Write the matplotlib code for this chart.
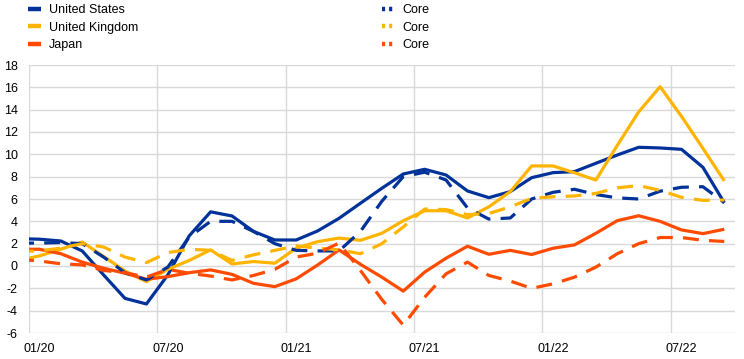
import matplotlib
matplotlib.use("Agg")
import matplotlib.pyplot as plt
from matplotlib.lines import Line2D
import numpy as np
import pandas as pd

plt.rcParams['font.family'] = ['Liberation Sans', 'DejaVu Sans']
plt.rcParams['axes.unicode_minus'] = False

# Monthly observations, Dec 2019 (clipped at the left edge) to Sep 2022
months = pd.date_range('2019-12-01', '2022-09-01', freq='MS')

us_headline = [2.45, 2.4, 2.24, 1.35, -0.8, -2.9, -3.4, -0.8, 2.7, 4.85, 4.48, 3.1, 2.33,
               2.33, 3.14, 4.27, 5.62, 6.96, 8.24, 8.66, 8.15, 6.72, 6.12, 6.66, 7.91,
               8.36, 8.45, 9.2, 9.94, 10.63, 10.57, 10.45, 8.84, 5.67]
uk_headline = [0.5, 0.9, 1.5, 2.15, 0.85, -0.45, -1.4, -0.3, 0.5, 1.44, 0.18, 0.4, 0.25,
               1.6, 2.18, 2.5, 2.3, 2.93, 4.05, 4.95, 4.95, 4.3, 5.3, 6.66, 8.96,
               8.96, 8.35, 7.7, 10.8, 13.8, 16.06, 13.4, 10.54, 7.62]
jp_headline = [1.5, 1.5, 1.1, 0.35, -0.2, -0.65, -1.19, -0.95, -0.6, -0.35, -0.75, -1.55, -1.85,
               -1.15, 0.09, 1.44, 0.15, -1.0, -2.25, -0.55, 0.7, 1.77, 1.05, 1.4, 1.03,
               1.59, 1.89, 2.93, 4.06, 4.5, 4.0, 3.23, 2.9, 3.29]
us_core = [2.05, 2.05, 2.1, 2.0, 0.8, -0.6, -1.25, -0.1, 2.6, 4.0, 4.0, 3.1, 2.0,
           1.4, 1.35, 1.35, 3.1, 5.8, 8.0, 8.4, 7.7, 5.2, 4.2, 4.3, 6.0,
           6.6, 6.87, 6.4, 6.1, 6.0, 6.7, 7.05, 7.1, 5.67]
uk_core = [1.3, 1.35, 1.6, 2.0, 1.7, 0.8, 0.3, 1.2, 1.5, 1.4, 0.5, 1.0, 1.4,
           1.8, 1.6, 1.45, 1.1, 2.0, 3.5, 5.1, 5.05, 4.6, 4.7, 5.3, 6.06,
           6.2, 6.27, 6.5, 7.0, 7.2, 6.78, 6.15, 5.88, 5.91]
jp_core = [0.6, 0.45, 0.2, 0.1, -0.4, -0.6, -1.0, -0.3, -0.65, -0.9, -1.25, -0.85, -0.3,
           0.8, 1.15, 2.05, -0.4, -3.0, -5.3, -2.8, -0.7, 0.35, -0.85, -1.35, -2.0,
           -1.6, -1.0, -0.1, 1.1, 2.0, 2.55, 2.55, 2.3, 2.2]

series_labels = ['United States', 'United Kingdom', 'Japan']
core_label = 'Core'
colors = ['#003299', '#FFB400', '#FF4B00']

y_ticks = list(range(-6, 19, 2))

x = np.arange(len(months)) - 1  # Jan 2020 -> 0
tick_pos = np.arange(0, 33, 6)
tick_labels = [months[p + 1].strftime('%m/%y') for p in tick_pos]

fig = plt.figure(figsize=(7.44, 3.59), dpi=100)
ax = fig.add_axes([28.7 / 744, 1 - 333 / 359, (735 - 28.7) / 744, (333 - 65) / 359])

lw = 2.3
dash = (5.0, 3.2)
heads = [us_headline, uk_headline, jp_headline]
cores = [us_core, uk_core, jp_core]
for vals, c in zip(heads, colors):
    ax.plot(x, vals, color=c, lw=lw, solid_joinstyle='round', solid_capstyle='butt', zorder=3)
for vals, c in zip(cores, colors):
    ax.plot(x, vals, color=c, lw=lw, linestyle=(0, dash), dash_capstyle='butt', zorder=3)

ax.set_xlim(-0.5, 32.5)
ax.set_ylim(-6, 18)
ax.set_yticks(y_ticks)
ax.set_yticklabels([str(v) for v in y_ticks])
ax.set_xticks(tick_pos)
ax.set_xticklabels(tick_labels)
ax.set_xticks(tick_pos - 0.5, minor=True)
ax.tick_params(axis='both', which='both', length=0, labelsize=9, colors='black')
ax.tick_params(axis='y', pad=8)
ax.tick_params(axis='x', pad=7)
ax.grid(axis='y', which='major', color='#D9D9D9', lw=1.0, zorder=0)
ax.grid(axis='x', which='minor', color='#D9D9D9', lw=1.0, zorder=0)
ax.grid(axis='x', which='major', visible=False)
for s in ax.spines.values():
    s.set_visible(False)
ax.set_axisbelow(True)

h1 = [Line2D([], [], color=c, lw=3.2, solid_capstyle='butt') for c in colors]
h2 = [Line2D([], [], color=c, lw=3.2, linestyle=(0, (0.7, 0.9)), dash_capstyle='butt') for c in colors]
common = dict(loc='upper left', frameon=False, borderpad=0, borderaxespad=0,
              fontsize=9, labelspacing=0.45)
leg1 = fig.legend(h1, series_labels, bbox_to_anchor=(28 / 744, 1 - 4 / 359),
                  handlelength=1.05, handletextpad=0.65, **common)
leg2 = fig.legend(h2, [core_label] * 3, bbox_to_anchor=(382 / 744, 1 - 4 / 359),
                  handlelength=0.85, handletextpad=0.8, **common)

fig.savefig('out.png', dpi=100)
